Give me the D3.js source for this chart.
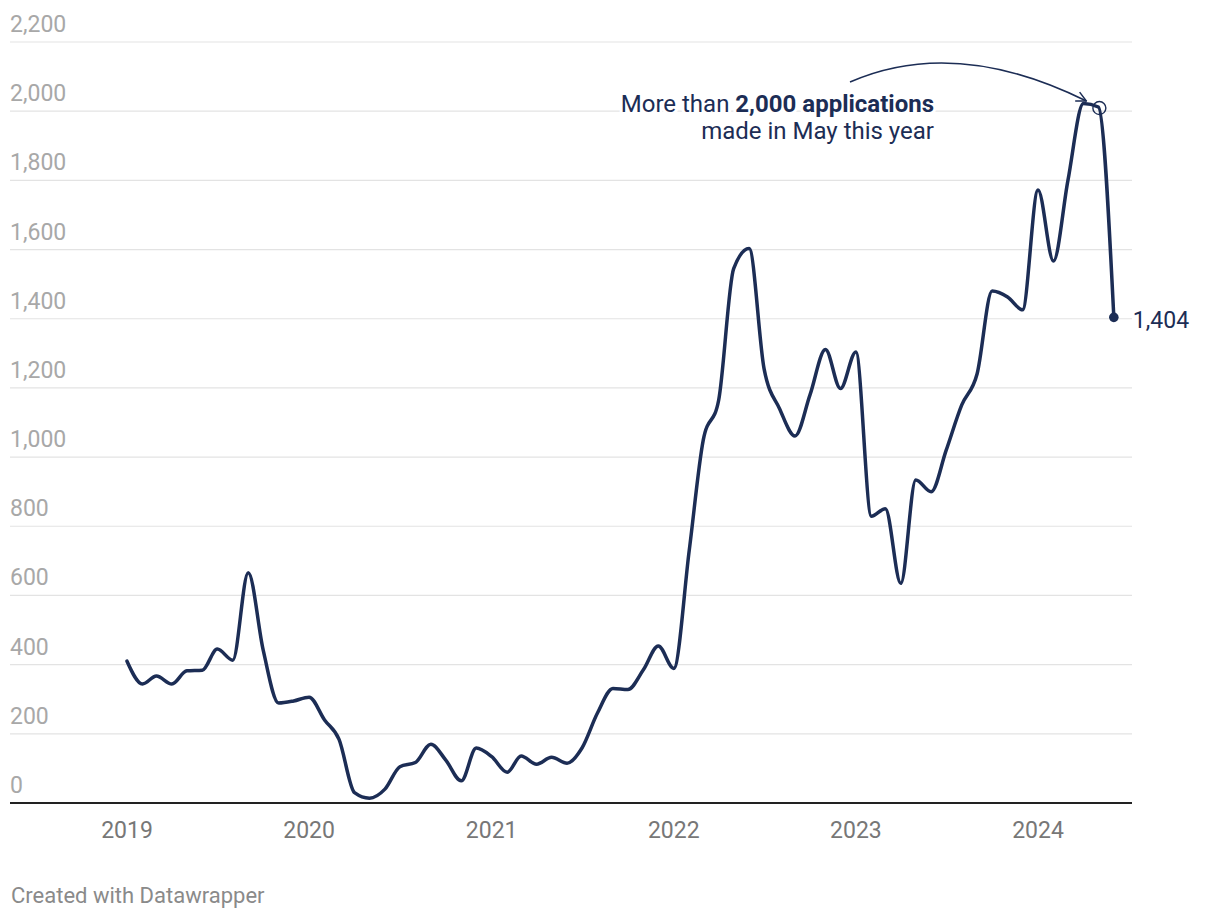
<!DOCTYPE html>
<html>
<head>
<meta charset="utf-8">
<script src="https://cdn.jsdelivr.net/npm/d3@7"></script>
<style>
  html, body { margin: 0; padding: 0; background: #fff; }
  svg { display: block; font-family: Roboto, "Noto Sans", sans-serif; }
</style>
</head>
<body>
<svg id="chart" width="1220" height="920"></svg>
<script>
// ---- Data ----
const startYear = 2019;
const values2019 = [410, 344, 367, 344, 382, 384, 445, 413, 666, 442, 289, 295];
const values2020 = [306, 240, 184, 30, 14, 40, 105, 117, 170, 124, 64, 159];
const values2021 = [134, 89, 136, 112, 132, 115, 159, 260, 331, 328, 385, 454];
const values2022 = [389, 731, 1049, 1165, 1545, 1603, 1255, 1140, 1061, 1180, 1311, 1198];
const values2023 = [1304, 829, 851, 635, 934, 900, 1020, 1150, 1241, 1480, 1463, 1426];
const values2024 = [1772, 1567, 1800, 2022, 2012, 1404];
const yTicks = [0, 200, 400, 600, 800, 1000, 1200, 1400, 1600, 1800, 2000, 2200];
const xTickYears = [2019, 2020, 2021, 2022, 2023, 2024];
const annotationLine1Normal = "More than ";
const annotationLine1Bold = "2,000 applications";
const annotationLine2 = "made in May this year";
const highlightIndex = 64; // May 2024
const footer = "Created with Datawrapper";

const allValues = [].concat(values2019, values2020, values2021, values2022, values2023, values2024);
const data = allValues.map((v, i) => ({ date: new Date(startYear + Math.floor(i / 12), i % 12, 1), value: v }));

// ---- Layout ----
const svg = d3.select("#chart");
const plotLeft = 10, plotRight = 1132, plotTop = 42, plotBottom = 803;
const navy = "#1c2d55";

const x = d3.scaleTime()
  .domain([new Date(2019, 0, 1), new Date(2024, 0, 1)])
  .range([127, 1038]);
const y = d3.scaleLinear().domain([0, 2200]).range([plotBottom, plotTop]);

// grid
const grid = svg.append("g");
grid.selectAll("line").data(yTicks.filter(d => d > 0)).join("line")
  .attr("x1", plotLeft).attr("x2", plotRight)
  .attr("y1", d => y(d)).attr("y2", d => y(d))
  .attr("stroke", "#e3e3e3").attr("stroke-width", 1.2);

// y labels
svg.append("g").selectAll("text").data(yTicks).join("text")
  .attr("x", plotLeft).attr("y", d => y(d) - 10)
  .attr("fill", "#a8a8a8").attr("font-size", 23)
  .text(d => d3.format(",")(d));

// baseline
svg.append("line").attr("x1", plotLeft).attr("x2", plotRight)
  .attr("y1", y(0)).attr("y2", y(0))
  .attr("stroke", "#222").attr("stroke-width", 2);

// x labels
svg.append("g").selectAll("text").data(xTickYears).join("text")
  .attr("x", d => x(new Date(d, 0, 1))).attr("y", 838)
  .attr("text-anchor", "middle").attr("fill", "#777").attr("font-size", 23)
  .text(d => d);

// line
const line = d3.line().x(d => x(d.date)).y(d => y(d.value)).curve(d3.curveMonotoneX);
svg.append("path").datum(data)
  .attr("d", line).attr("fill", "none")
  .attr("stroke", navy).attr("stroke-width", 3.5)
  .attr("stroke-linejoin", "round").attr("stroke-linecap", "round");

// end dot & label
const last = data[data.length - 1];
svg.append("circle").attr("cx", x(last.date)).attr("cy", y(last.value)).attr("r", 4.8).attr("fill", navy);
svg.append("text").attr("x", x(last.date) + 19).attr("y", y(last.value) + 11)
  .attr("fill", navy).attr("font-size", 23).text(d3.format(",")(last.value));

// highlight circle
const hl = data[highlightIndex];
svg.append("circle").attr("cx", x(hl.date) + 1).attr("cy", y(hl.value) + 1).attr("r", 6.5)
  .attr("fill", "none").attr("stroke", navy).attr("stroke-width", 1.4);

// annotation text
const ann = svg.append("text").attr("x", 934).attr("y", 111.5)
  .attr("text-anchor", "end").attr("fill", navy).attr("font-size", 24)
  .attr("stroke", "#fff").attr("stroke-width", 6).attr("paint-order", "stroke")
  .attr("stroke-linejoin", "round");
ann.append("tspan").text(annotationLine1Normal);
ann.append("tspan").attr("font-weight", "bold").text(annotationLine1Bold);
svg.append("text").attr("x", 934).attr("y", 139)
  .attr("text-anchor", "end").attr("fill", navy).attr("font-size", 24)
  .attr("stroke", "#fff").attr("stroke-width", 6).attr("paint-order", "stroke")
  .text(annotationLine2);

// arrow
svg.append("defs").append("marker")
  .attr("id", "arrow").attr("viewBox", "0 0 12 12").attr("refX", 11).attr("refY", 6)
  .attr("markerWidth", 12).attr("markerHeight", 12).attr("markerUnits", "userSpaceOnUse")
  .attr("orient", "auto")
  .append("path").attr("d", "M1,1 L11,6 L1,11").attr("fill", "none")
  .attr("stroke", navy).attr("stroke-width", 1.5);
const ax0 = 850, ay0 = 82, ax1 = x(hl.date) - 12, ay1 = y(hl.value) - 6;
svg.append("path")
  .attr("d", `M${ax0},${ay0} Q${955},${36} ${ax1},${ay1}`)
  .attr("fill", "none").attr("stroke", navy).attr("stroke-width", 1.5)
  .attr("marker-end", "url(#arrow)");

// footer
svg.append("text").attr("x", 11).attr("y", 903)
  .attr("fill", "#8a8a8a").attr("font-size", 22).text(footer);
</script>
</body>
</html>
